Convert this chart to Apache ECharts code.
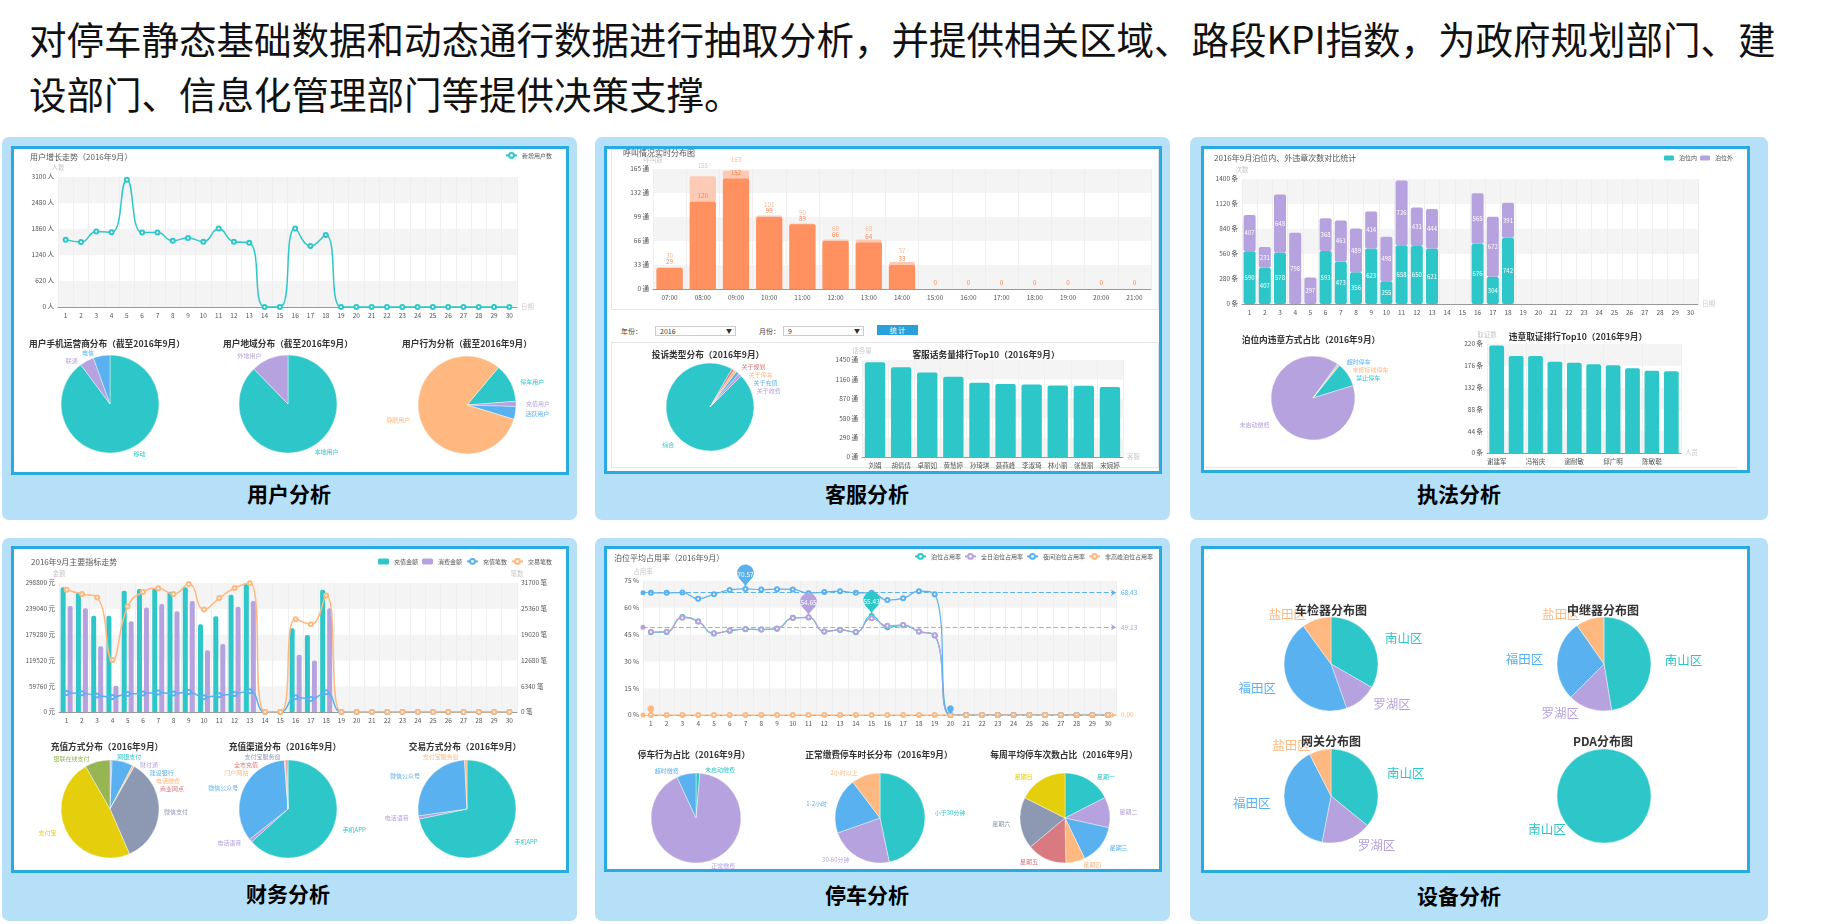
<!DOCTYPE html>
<html><head><meta charset="utf-8">
<script src="https://cdn.jsdelivr.net/npm/echarts@6/dist/echarts.min.js"></script>
<style>
html,body{margin:0;padding:0;background:#fff;width:1821px;height:924px;overflow:hidden;font-family:'Noto Sans CJK SC','Noto Sans',sans-serif;}
.hdr{position:absolute;left:29px;font-size:37.5px;line-height:55px;color:#111;white-space:nowrap;}
.panel{position:absolute;background:#b6e0f8;border-radius:7px;}
.inner{position:absolute;background:#fff;border:3px solid #29abe2;box-sizing:border-box;}
.lab{position:absolute;font-size:21px;font-weight:bold;color:#000;transform:translate(-50%,-50%);white-space:nowrap;}
.sub{position:absolute;border:1px solid #e6e6e6;box-sizing:border-box;}
.ftxt{position:absolute;font-size:7px;color:#444;line-height:10px;}
.sel{position:absolute;height:10px;border:1px solid #ccc;box-sizing:border-box;font-size:7px;line-height:8px;color:#333;padding-left:4px;background:#fff;}
.sel span{position:absolute;right:3px;top:0;font-size:6px;}
.btn{position:absolute;height:10px;background:#2b9fd9;color:#fff;font-size:7px;line-height:10px;text-align:center;}
#chart{position:absolute;left:0;top:0;width:1821px;height:924px;}
</style></head>
<body>
<div class="hdr" style="top:10px">对停车静态基础数据和动态通行数据进行抽取分析，并提供相关区域、路段KPI指数，为政府规划部门、建</div>
<div class="hdr" style="top:65px">设部门、信息化管理部门等提供决策支撑。</div>

<div class="panel" style="left:2px;top:137px;width:575px;height:383px"></div>
<div class="panel" style="left:595px;top:137px;width:575px;height:383px"></div>
<div class="panel" style="left:1190px;top:137px;width:578px;height:383px"></div>
<div class="panel" style="left:2px;top:538px;width:575px;height:383px"></div>
<div class="panel" style="left:595px;top:538px;width:575px;height:383px"></div>
<div class="panel" style="left:1190px;top:538px;width:578px;height:383px"></div>

<div class="inner" style="left:11px;top:146px;width:558px;height:329px"></div>
<div class="inner" style="left:604px;top:146px;width:558px;height:328px"></div>
<div class="inner" style="left:1201px;top:146px;width:549px;height:327px"></div>
<div class="inner" style="left:11px;top:546px;width:558px;height:327px"></div>
<div class="inner" style="left:604px;top:546px;width:558px;height:326px"></div>
<div class="inner" style="left:1201px;top:546px;width:549px;height:327px"></div>

<div class="sub" style="left:611px;top:149px;width:548px;height:161px"></div>
<div class="sub" style="left:611px;top:342px;width:548px;height:126px"></div>
<div class="sub" style="left:1205px;top:467px;width:532px;height:1px;border-width:1px 0 0 0"></div>

<div class="ftxt" style="left:621px;top:326px">年份：</div>
<div class="sel" style="left:655px;top:326px;width:81px">2016<span>▼</span></div>
<div class="ftxt" style="left:759px;top:326px">月份：</div>
<div class="sel" style="left:783px;top:326px;width:81px">9<span>▼</span></div>
<div class="btn" style="left:877px;top:325px;width:41px">统 计</div>

<div class="lab" style="left:289px;top:493px">用户分析</div>
<div class="lab" style="left:867px;top:493px">客服分析</div>
<div class="lab" style="left:1459px;top:493px">执法分析</div>
<div class="lab" style="left:288px;top:893px">财务分析</div>
<div class="lab" style="left:867px;top:894px">停车分析</div>
<div class="lab" style="left:1459px;top:895px">设备分析</div>

<div id="chart"></div>
<script>
// ---------------- DATA ----------------
const days = ['1','2','3','4','5','6','7','8','9','10','11','12','13','14','15','16','17','18','19','20','21','22','23','24','25','26','27','28','29','30'];
const newUsers = [1606,1550,1798,1782,3036,1774,1774,1582,1646,1558,1870,1558,1534,0,0,1870,1454,1718,0,0,0,0,0,0,0,0,0,0,0,0];
const carrierNames = ['移动','联通','电信'];
const carrierValues = [8980,470,550];
const regionNames = ['本地用户','外地用户'];
const regionValues = [8770,1230];
const behaviorNames = ['停车用户','充值用户','活跃用户','静默用户'];
const behaviorValues = [1270,170,420,8140];

const hours = ['07:00','08:00','09:00','10:00','11:00','12:00','13:00','14:00','15:00','16:00','17:00','18:00','19:00','20:00','21:00'];
const callsTotal = [30,155,163,101,90,68,68,37,0,0,0,0,0,0,0];
const callsAnswered = [29,120,152,99,89,66,64,33,0,0,0,0,0,0,0];
const complaintNames = ['综合','关于收费','关于充值','关于停车','关于规划'];
const complaintValues = [958,12,12,10,8];
const agentNames = ['刘娟','胡倩倩','卓丽如','黄慧婷','孙琦琪','聂燕峰','李淑琦','林小丽','张慧丽','宋婉婷'];
const agentCalls = [1415,1340,1265,1200,1110,1090,1085,1070,1065,1045];

const violIn  = [590,407,578,0,0,593,473,356,623,255,658,650,621,0,0,676,304,742,0,0,0,0,0,0,0,0,0,0,0,0];
const violOut = [407,231,648,798,297,368,461,489,414,498,726,431,444,0,0,565,672,391,0,0,0,0,0,0,0,0,0,0,0,0];
const violTypeNames = ['禁止停车','未启动缴费','超时停车','未按标线停车'];
const violTypeValues = [94,897,4,5];
const officerNames = ['谢建军','人员2','冯裕庆','人员4','谢耐敏','人员6','邱广明','人员8','陈敏聪','人员10'];
const officerCounts = [217,196,196,184,182,179,177,171,166,165];

const rechargeAmount = [288700,277070,222740,222740,280950,284830,287160,278620,288700,203340,221970,271640,298000,0,0,194030,178500,283280,0,0,0,0,0,0,0,0,0,0,0,0];
const consumeAmount  = [245250,240590,152110,60540,210320,242140,249900,233600,256890,142800,157550,243690,256890,0,0,132710,119520,240590,0,0,0,0,0,0,0,0,0,0,0,0];
const rechargeCount  = [4690,4610,4030,3700,4450,4530,4780,4530,4940,3620,4120,4450,5100,0,0,3620,3210,4860,0,0,0,0,0,0,0,0,0,0,0,0];
const tradeCount     = [30050,28980,28160,12760,25940,29480,30380,28980,31450,25200,27990,30460,31650,0,0,22810,21570,28650,0,0,0,0,0,0,0,0,0,0,0,0];
const rechargeMethodNames = ['网银支付','财付通','建设银行','电话缴费','商业网点','微信支付','支付宝','银联在线支付'];
const rechargeMethodValues = [10,60,690,60,10,3530,4830,830];
const rechargeChannelNames = ['手机APP','电话语音','微信公众号','门户网站','全市充值','支付宝服务窗'];
const rechargeChannelValues = [6330,110,3440,40,50,30];
const tradeMethodNames = ['手机APP','电话语音','微信公众号','支付宝服务窗'];
const tradeMethodValues = [7170,110,2640,80];

const occAll   = [46.3,46.5,54.8,52.4,45.6,47.2,48.0,47.8,48.3,54.4,54.6,46.7,47.6,46.3,55.43,49.1,50.2,46.7,44.5,0,0,0,0,0,0,0,0,0,0,0];
const occDay   = [46.4,46.6,54.5,52.3,45.7,47.3,48.1,47.9,48.4,54.3,54.65,46.8,47.7,46.4,54.2,49.9,50.4,46.8,44.6,0,0,0,0,0,0,0,0,0,0,0];
const occNight = [68.4,68.4,68.5,65.1,67.6,70.0,70.57,70.2,70.4,70.3,68.2,68.8,69.3,68.4,68.4,64.3,65.3,69.3,67.6,0,0,0,0,0,0,0,0,0,0,0];
const occOffPeak = [0,0,0,0,0,0,0,0,0,0,0,0,0,0,0,0,0,0,0,0,0,0,0,0,0,0,0,0,0,0];
const occAvgLines = [68.43,49.13,0.00];   // 夜间, 全日, 非高峰
const parkBehaviorNames = ['未启动缴费','正常缴费','超时缴费'];
const parkBehaviorValues = [14,917,69];
const durationNames = ['小于30分钟','30-60分钟','1-2小时','2小时以上'];
const durationValues = [467,229,201,103];
const weekNames = ['星期一','星期二','星期三','星期四','星期五','星期六','星期日'];
const weekValues = [175,110,143,69,142,185,176];

const districtNames = ['南山区','罗湖区','福田区','盐田区'];
const detectorValues = [333,113,454,100];
const relayValues = [474,151,278,97];
const gatewayValues = [358,172,394,75];
const pdaNames = ['南山区'];
const pdaValues = [100];

// ---------------- STYLE ----------------
const FONT = "'Noto Sans CJK SC','Noto Sans',sans-serif";
const C = {teal:'#2ec7c9',purple:'#b6a2de',blue:'#5ab1ef',orange:'#ffb980',red:'#d87a80',gray:'#8d98b3',yellow:'#e5cf0d',green:'#97b552'};
const PAL = [C.teal,C.purple,C.blue,C.orange,C.red,C.gray,C.yellow,C.green];

function T(text,left,top){return {text,left,top,padding:0,textStyle:{fontSize:8,fontWeight:'normal',color:'#555',fontFamily:FONT}};}
function PT(text,cx,top,size){return {text,left:cx,top,padding:0,textAlign:'center',textStyle:{fontSize:size||8.7,fontWeight:'bold',color:'#333',fontFamily:FONT}};}
function LG(data,right,top,extra){return Object.assign({data,right,top,padding:0,itemWidth:11,itemHeight:6,itemGap:4,selectedMode:false,textStyle:{fontSize:6,color:'#555',fontFamily:FONT}},extra||{});}
function GR(left,top,width,height){return {left,top,width,height,containLabel:false};}
function XA(gi,data,extra){return Object.assign({type:'category',gridIndex:gi,data,boundaryGap:true,
  axisLine:{lineStyle:{color:'#999',width:1}},axisTick:{lineStyle:{color:'#999'},length:3},
  axisLabel:{fontSize:6.5,color:'#555',fontFamily:FONT,margin:5},
  splitLine:{show:true,lineStyle:{color:'#eeeeee'}},
  nameLocation:'end',nameGap:4,nameTextStyle:{color:'#ccc',fontSize:6.5,fontFamily:FONT}},extra||{});}
function YA(gi,max,interval,unit,name,extra){return Object.assign({type:'value',gridIndex:gi,min:0,max,interval,name,
  nameLocation:'end',nameGap:6,nameTextStyle:{color:'#c8c8c8',fontSize:6.5,fontFamily:FONT,align:'center'},
  axisLine:{show:false},axisTick:{show:false},
  axisLabel:{fontSize:6.5,color:'#555',fontFamily:FONT,margin:4,formatter:v=>String(v)+' '+unit},
  splitLine:{show:false},splitArea:{show:true,areaStyle:{color:['#f4f4f4','#ffffff']}}},extra||{});}
function pieData(names,values,colors){return names.map((n,i)=>({name:n,value:values[i],itemStyle:{color:colors[i]},label:{color:colors[i]}}));}
function PIE(name,center,r,names,values,extra,fs){return Object.assign({type:'pie',name,center,radius:r,
  data:pieData(names,values,PAL),
  label:{fontSize:fs||6,fontFamily:FONT},
  labelLine:{show:false,length:3,length2:2},
  itemStyle:{borderColor:'#fff',borderWidth:0.4},
  emphasis:{disabled:true}},extra||{});}
const hideZero = p => (p.value > 0 ? p.value : '');

const option = {
  animation:false,
  textStyle:{fontFamily:FONT},
  title:[
    T('用户增长走势（2016年9月）',30,153),
    PT('用户手机运营商分布（截至2016年9月）',107,339),
    PT('用户地域分布（截至2016年9月）',288,339),
    PT('用户行为分析（截至2016年9月）',467,339),
    T('呼叫情况实时分布图',623,149),
    PT('投诉类型分布（2016年9月）',708,350),
    PT('客服话务量排行Top10（2016年9月）',986,350),
    T('2016年9月泊位内、外违章次数对比统计',1214,154),
    PT('泊位内违章方式占比（2016年9月）',1311,335),
    PT('违章取证排行Top10（2016年9月）',1578,332),
    T('2016年9月主要指标走势',31,558),
    PT('充值方式分布（2016年9月）',107,742),
    PT('充值渠道分布（2016年9月）',285,742),
    PT('交易方式分布（2016年9月）',465,742),
    T('泊位平均占用率（2016年9月）',614,554),
    PT('停车行为占比（2016年9月）',694,750),
    PT('正常缴费停车时长分布（2016年9月）',879,750),
    PT('每周平均停车次数占比（2016年9月）',1064,750),
    PT('车检器分布图',1331,604,12),
    PT('中继器分布图',1603,604,12),
    PT('网关分布图',1331,735,12),
    PT('PDA分布图',1603,735,12)
  ],
  legend:[
    LG(['新增用户数'],1269,152),
    LG(['泊位内','泊位外'],88,155,{itemWidth:10,itemHeight:5,itemGap:3}),
    LG(['充值金额','消费金额','充值笔数','交易笔数'],1269,558,{itemGap:4}),
    LG(['泊位占用率','全日泊位占用率','夜间泊位占用率','非高峰泊位占用率'],668,553,{itemGap:3})
  ],
  grid:[
    GR(58,177,459,130),
    GR(653,169,498,120),
    GR(862,360,261,97),
    GR(1242,179,456,125),
    GR(1487,344,194,109),
    GR(59,583,458,129),
    GR(643,581,473,134)
  ],
  xAxis:[
    XA(0,days,{name:'日期'}),
    XA(1,hours),
    XA(2,agentNames,{name:'客服',splitLine:{show:true,lineStyle:{color:'#f0f0f0'}}}),
    XA(3,days,{name:'日期'}),
    XA(4,officerNames,{name:'人员',axisLabel:{fontSize:6.5,color:'#555',fontFamily:FONT,margin:5,interval:1}}),
    XA(5,days),
    XA(6,days)
  ],
  yAxis:[
    YA(0,3100,620,'人','人数'),
    YA(1,165,33,'通','呼叫数'),
    YA(2,1450,290,'通','话务量'),
    YA(3,1400,280,'条','次数'),
    YA(4,220,44,'条','取证数'),
    YA(5,298800,59760,'元','金额'),
    YA(5,31700,6340,'笔','笔数',{position:'right',splitArea:{show:false}}),
    YA(6,75,15,'%','占用率')
  ],
  series:[
    // ---- Panel 1
    {type:'line',name:'新增用户数',xAxisIndex:0,yAxisIndex:0,data:newUsers,smooth:true,symbol:'emptyCircle',symbolSize:4,
      lineStyle:{width:1.5,color:C.teal},itemStyle:{color:C.teal}},
    PIE('运营商',[110,404],49,carrierNames,carrierValues),
    PIE('地域',[288,404],49,regionNames,regionValues),
    PIE('行为',[467,405],49,behaviorNames,behaviorValues,{startAngle:50}),
    // ---- Panel 2
    {type:'bar',name:'呼叫量',xAxisIndex:1,yAxisIndex:1,data:callsTotal,barGap:'-100%',barCategoryGap:'21%',
      itemStyle:{color:'#fdcbb5',borderRadius:[2,2,0,0]},
      label:{show:true,position:'top',distance:8,fontSize:6.3,color:'#fbbb9e',formatter:hideZero}},
    {type:'bar',name:'接通量',xAxisIndex:1,yAxisIndex:1,data:callsAnswered,barCategoryGap:'21%',
      itemStyle:{color:'#fe915f',borderRadius:[2,2,0,0]},
      label:{show:true,position:'top',distance:3,fontSize:6.3,color:'#fb8a55'}},
    PIE('投诉',[710,407],44,complaintNames,complaintValues,{startAngle:60,clockwise:false}),
    {type:'bar',name:'话务量',xAxisIndex:2,yAxisIndex:2,data:agentCalls,barCategoryGap:'22%',
      itemStyle:{color:C.teal,borderRadius:[2,2,0,0]}},
    // ---- Panel 3
    {type:'bar',name:'泊位内',stack:'v',xAxisIndex:3,yAxisIndex:3,data:violIn,barCategoryGap:'21%',
      itemStyle:{color:C.teal,borderRadius:2},
      label:{show:true,position:'inside',fontSize:6,color:'#fff',formatter:hideZero}},
    {type:'bar',name:'泊位外',stack:'v',xAxisIndex:3,yAxisIndex:3,data:violOut,barCategoryGap:'21%',
      itemStyle:{color:C.purple,borderRadius:2},
      label:{show:true,position:'inside',fontSize:6,color:'#fff',formatter:hideZero}},
    PIE('违章方式',[1313,398],42,violTypeNames,violTypeValues,{startAngle:51}),
    {type:'bar',name:'取证数',xAxisIndex:4,yAxisIndex:4,data:officerCounts,barCategoryGap:'24%',
      itemStyle:{color:C.teal,borderRadius:[2,2,0,0]}},
    // ---- Panel 4
    {type:'bar',name:'充值金额',xAxisIndex:5,yAxisIndex:5,data:rechargeAmount,barWidth:5,barGap:'40%',
      itemStyle:{color:C.teal,borderRadius:[2,2,0,0]}},
    {type:'bar',name:'消费金额',xAxisIndex:5,yAxisIndex:5,data:consumeAmount,barWidth:5,barGap:'40%',
      itemStyle:{color:C.purple,borderRadius:[2,2,0,0]}},
    {type:'line',name:'充值笔数',xAxisIndex:5,yAxisIndex:6,data:rechargeCount,smooth:true,symbol:'emptyCircle',symbolSize:4,
      lineStyle:{width:1.5,color:C.blue},itemStyle:{color:C.blue}},
    {type:'line',name:'交易笔数',xAxisIndex:5,yAxisIndex:6,data:tradeCount,smooth:true,symbol:'emptyCircle',symbolSize:4,
      lineStyle:{width:1.5,color:C.orange},itemStyle:{color:C.orange}},
    PIE('充值方式',[110,809],49,rechargeMethodNames,rechargeMethodValues),
    PIE('充值渠道',[288,809],49,rechargeChannelNames,rechargeChannelValues),
    PIE('交易方式',[467,809],49,tradeMethodNames,tradeMethodValues),
    // ---- Panel 5
    {type:'line',name:'泊位占用率',xAxisIndex:6,yAxisIndex:7,data:occAll,smooth:true,symbol:'emptyCircle',symbolSize:4,
      lineStyle:{width:1.2,color:C.teal},itemStyle:{color:C.teal},
      markPoint:{symbol:'pin',data:[{type:'max',symbolSize:28}],label:{fontSize:6.5,color:'#fff'}}},
    {type:'line',name:'全日泊位占用率',xAxisIndex:6,yAxisIndex:7,data:occDay,smooth:true,symbol:'emptyCircle',symbolSize:4,
      lineStyle:{width:1.2,color:C.purple},itemStyle:{color:C.purple},
      markPoint:{symbol:'pin',data:[{type:'max',symbolSize:28}],label:{fontSize:6.5,color:'#fff'}},
      markLine:{symbol:['circle','arrow'],symbolSize:5,data:[{yAxis:occAvgLines[1]}],
        lineStyle:{type:'dashed',width:1.2,color:C.purple},label:{position:'end',fontSize:6.5,color:C.purple,formatter:p=>p.value.toFixed(2)}}},
    {type:'line',name:'夜间泊位占用率',xAxisIndex:6,yAxisIndex:7,data:occNight,smooth:true,symbol:'emptyCircle',symbolSize:4,
      lineStyle:{width:1.2,color:C.blue},itemStyle:{color:C.blue},
      markPoint:{symbol:'pin',data:[{type:'max',symbolSize:28},{type:'min',symbolSize:11,label:{show:false}}],label:{fontSize:6.5,color:'#fff'}},
      markLine:{symbol:['circle','arrow'],symbolSize:5,data:[{yAxis:occAvgLines[0]}],
        lineStyle:{type:'dashed',width:1.2,color:C.blue},label:{position:'end',fontSize:6.5,color:C.blue,formatter:p=>p.value.toFixed(2)}}},
    {type:'line',name:'非高峰泊位占用率',xAxisIndex:6,yAxisIndex:7,data:occOffPeak,smooth:true,symbol:'emptyCircle',symbolSize:4,
      lineStyle:{width:1.2,color:C.orange},itemStyle:{color:C.orange},
      markPoint:{symbol:'pin',data:[{type:'min',symbolSize:11,label:{show:false}}]},
      markLine:{symbol:['circle','arrow'],symbolSize:5,data:[{yAxis:occAvgLines[2]}],
        lineStyle:{type:'dashed',width:1.2,color:C.orange},label:{position:'end',fontSize:6.5,color:C.orange,formatter:p=>p.value.toFixed(2)}}},
    PIE('停车行为',[696,818],45,parkBehaviorNames,parkBehaviorValues),
    PIE('停车时长',[880,818],45,durationNames,durationValues),
    PIE('每周停车',[1065,818],45,weekNames,weekValues),
    // ---- Panel 6
    PIE('车检器',[1331,664],47,districtNames,detectorValues,{labelLine:{show:false,length:5,length2:4}},12.5),
    PIE('中继器',[1604,664],47,districtNames,relayValues,{labelLine:{show:false,length:5,length2:4}},12.5),
    PIE('网关',[1331,796],47,districtNames,gatewayValues,{labelLine:{show:false,length:5,length2:4}},12.5),
    PIE('PDA',[1604,796],47,pdaNames,pdaValues,{startAngle:45,labelLine:{show:false,length:0,length2:0}},12.5)
  ]
};
const chart = echarts.init(document.getElementById('chart'),null,{renderer:'canvas'});
chart.setOption(option);
</script>
</body></html>
